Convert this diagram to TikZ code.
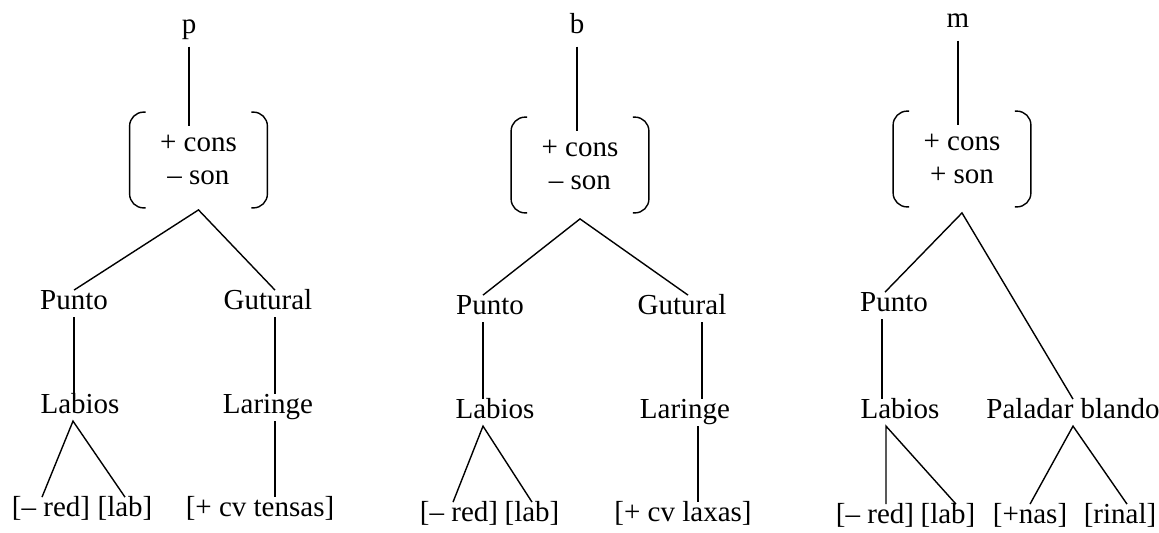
\documentclass[tikz,border=0pt]{standalone}
\usepackage{fontspec}
\setmainfont{Liberation Serif}
\usetikzlibrary{positioning,calc}

\tikzset{
  texto/.style={font=\fontsize{14.5pt}{16.5pt}\selectfont},
  nodo/.style={texto, anchor=base, inner sep=2.25pt, text height=0.7em, text depth=0.16em},
  letra/.style={nodo, inner sep=5pt},
  rasgos/.style={texto, align=center, minimum width=68.5pt, minimum height=47.5pt, inner sep=0pt},
  rama/.style={line width=0.7pt},
  corchete/.style={line width=0.7pt, rounded corners=7pt}
}

% round brackets around a feature matrix
\newcommand{\corchetes}[1]{%
  \draw[corchete] ([xshift=8pt]#1.north west) -- (#1.north west) -- (#1.south west) -- ([xshift=8pt]#1.south west);
  \draw[corchete] ([xshift=-8pt]#1.north east) -- (#1.north east) -- (#1.south east) -- ([xshift=-8pt]#1.south east);
}

\begin{document}
\begin{tikzpicture}[x=0.5pt, y=-0.5pt]
    \useasboundingbox (0,0) rectangle (1159,532);

    % Tree p
    \node[letra] (p1) at (189,33) {p};
    \node[rasgos] (f1) at (198.5,160) {+ cons\\– son};
    \corchetes{f1}
    \coordinate (v1) at ([yshift=-1pt]f1.south);
    \node[nodo] (pu1) at (74,309) {Punto};
    \node[nodo] (gu1) at (268,309) {Gutural};
    \node[nodo] (la1) at (80,413) {Labios};
    \node[nodo] (lr1) at (268,413) {Laringe};
    \node[nodo] (red1) at (51,516) {[– red]};
    \node[nodo] (lab1) at (125,516) {[lab]};
    \node[nodo] (ten1) at (260,516) {[+ cv tensas]};
    \draw[rama] (p1.south) -- ([yshift=-7pt]p1.south |- f1.north);
    \draw[rama] (pu1.north) -- (v1) -- ([xshift=3.5pt]gu1.north);
    \draw[rama] (pu1.south) -- (pu1.south |- la1.north);
    \draw[rama] ([xshift=3.5pt]gu1.south) -- ([xshift=3.5pt]gu1.south |- lr1.north);
    \draw[rama] ([xshift=-4.5pt]red1.north) -- ([xshift=-3.5pt]la1.south) -- (lab1.north);
    \draw[rama] ([xshift=3.5pt]lr1.south) -- ([xshift=3.5pt]lr1.south |- ten1.north);

    % Tree b
    \node[letra] (b2) at (577,33) {b};
    \node[rasgos] (f2) at (580,165) {+ cons\\– son};
    \corchetes{f2}
    \coordinate (v2) at ([yshift=-3pt]f2.south);
    \node[nodo] (pu2) at (490,314) {Punto};
    \node[nodo] (gu2) at (682,314) {Gutural};
    \node[nodo] (la2) at (495,418) {Labios};
    \node[nodo] (lr2) at (685,418) {Laringe};
    \node[nodo] (red2) at (459,521) {[– red]};
    \node[nodo] (lab2) at (532,521) {[lab]};
    \node[nodo] (lax2) at (683,521) {[+ cv laxas]};
    \draw[rama] (b2.south) -- ([yshift=-7pt]b2.south |- f2.north);
    \draw[rama] ([xshift=-3.5pt]pu2.north) -- (v2) -- ([xshift=3pt]gu2.north);
    \draw[rama] ([xshift=-3.5pt]pu2.south) -- ([xshift=-3.5pt]pu2.south |- la2.north);
    \draw[rama] ([xshift=10pt]gu2.south) -- ([xshift=10pt]gu2.south |- lr2.north);
    \draw[rama] ([xshift=-3pt]red2.north) -- ([xshift=-6pt]la2.south) -- (lab2.north);
    \draw[rama] ([xshift=6.5pt]lr2.south) -- ([xshift=6.5pt]lr2.south |- lax2.north);

    % Tree m
    \node[letra] (m3) at (958,27) {m};
    \node[rasgos] (f3) at (962,159) {+ cons\\+ son};
    \corchetes{f3}
    \coordinate (v3) at ([yshift=-3pt]f3.south);
    \node[nodo] (pu3) at (894,311) {Punto};
    \node[nodo] (la3) at (900,418) {Labios};
    \node[nodo] (pb3) at (1073,418) {Paladar blando};
    \node[nodo] (red3) at (875,523) {[– red]};
    \node[nodo] (lab3) at (948,523) {[lab]};
    \node[nodo] (nas3) at (1030,523) {[+nas]};
    \node[nodo] (rin3) at (1120,523) {[rinal]};
    \draw[rama] (m3.south) -- ([yshift=-7pt]m3.south |- f3.north);
    \draw[rama] ([xshift=-4.5pt]pu3.north) -- (v3) -- (pb3.north);
    \draw[rama] ([xshift=-6pt]pu3.south) -- ([xshift=-6pt]pu3.south |- la3.north);
    \draw[rama] ([xshift=-7pt]la3.south |- red3.north) -- ([xshift=-7pt]la3.south) -- ([xshift=4pt]lab3.north);
    \draw[rama] (nas3.north) -- (pb3.south) -- ([xshift=3.5pt]rin3.north);

\end{tikzpicture}
\end{document}
